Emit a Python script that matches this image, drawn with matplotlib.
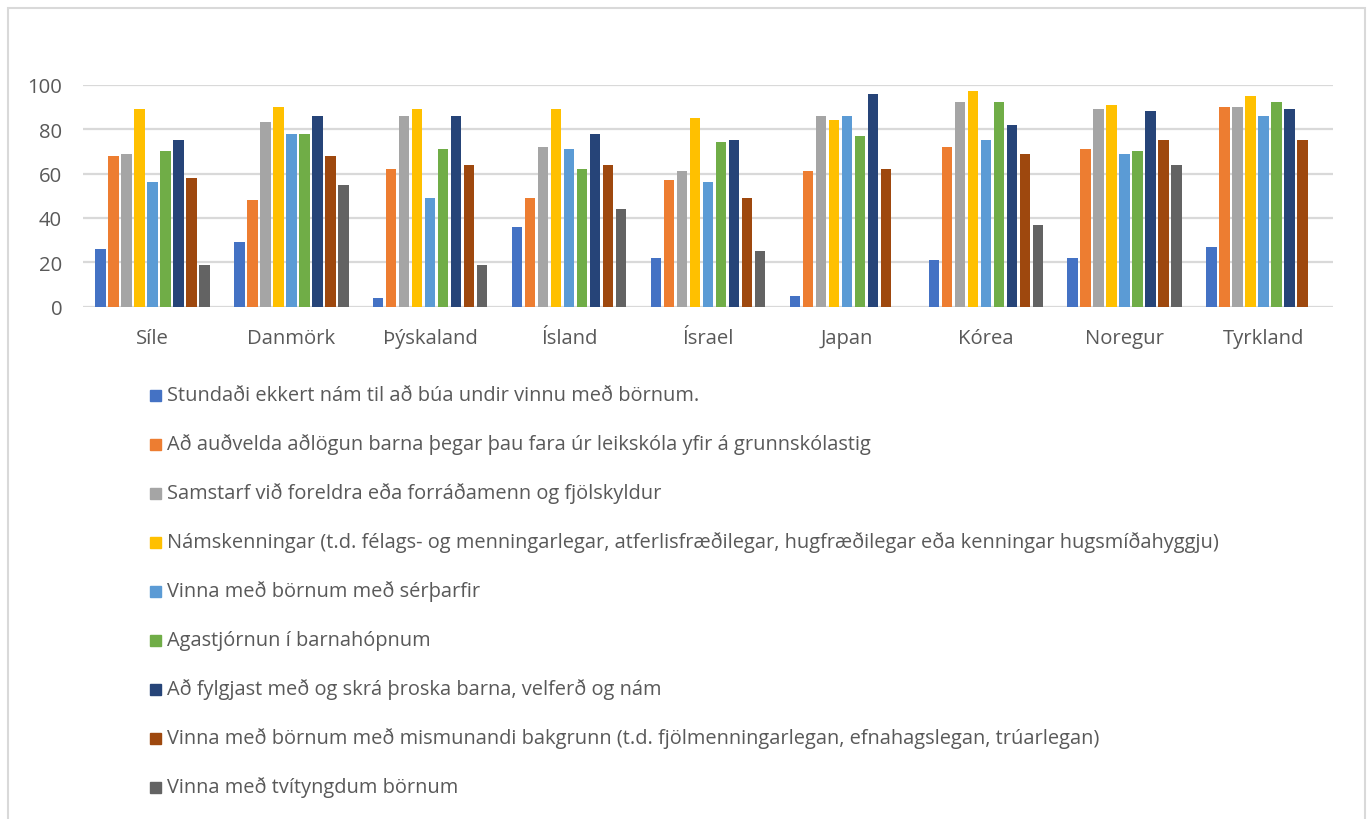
import numpy as np
import matplotlib
matplotlib.use("Agg")
import matplotlib.pyplot as plt
from matplotlib.patches import Rectangle

plt.rcParams['font.family'] = ['Open Sans', 'DejaVu Sans']

countries = ["Síle", "Danmörk", "Þýskaland", "Ísland", "Ísrael", "Japan", "Kórea", "Noregur", "Tyrkland"]

series_labels = [
    "Stundaði ekkert nám til að búa undir vinnu með börnum.",
    "Að auðvelda aðlögun barna þegar þau fara úr leikskóla yfir á grunnskólastig",
    "Samstarf við foreldra eða forráðamenn og fjölskyldur",
    "Námskenningar (t.d. félags- og menningarlegar, atferlisfræðilegar, hugfræðilegar eða kenningar hugsmíðahyggju)",
    "Vinna með börnum með sérþarfir",
    "Agastjórnun í barnahópnum",
    "Að fylgjast með og skrá þroska barna, velferð og nám",
    "Vinna með börnum með mismunandi bakgrunn (t.d. fjölmenningarlegan, efnahagslegan, trúarlegan)",
    "Vinna með tvítyngdum börnum",
]

nan = np.nan
s_ekkert      = [26, 29, 4, 36, 22, 5, 21, 22, 27]
s_adlogun     = [68, 48, 62, 49, 57, 61, 72, 71, 90]
s_samstarf    = [69, 83, 86, 72, 61, 86, 92, 89, 90]
s_namskenn    = [89, 90, 89, 89, 85, 84, 97, 91, 95]
s_serthorf    = [56, 78, 49, 71, 56, 86, 75, 69, 86]
s_agastjorn   = [70, 78, 71, 62, 74, 77, 92, 70, 92]
s_throski     = [75, 86, 86, 78, 75, 96, 82, 88, 89]
s_bakgrunn    = [58, 68, 64, 64, 49, 62, 69, 75, 75]
s_tvityngd    = [19, 55, 19, 44, 25, nan, 37, 64, nan]

series = [s_ekkert, s_adlogun, s_samstarf, s_namskenn, s_serthorf,
          s_agastjorn, s_throski, s_bakgrunn, s_tvityngd]

colors = ["#4472C4", "#ED7D31", "#A5A5A5", "#FFC000", "#5B9BD5",
          "#70AD47", "#264478", "#9E480E", "#636363"]

W, H = 1367, 820
fig = plt.figure(figsize=(W / 100, H / 100), dpi=100)
ax = fig.add_axes([83 / W, 1 - 307.7 / H, 1250 / W, 222 / H])

x = np.arange(len(countries))
slot = 0.0936
n = len(series)
for i, (vals, c) in enumerate(zip(series, colors)):
    ax.bar(x + (i - (n - 1) / 2) * slot, vals, width=slot * 0.8,
           color=c, zorder=3)

ax.set_xlim(-0.5, len(countries) - 0.5)
ax.set_ylim(0, 100)
ax.set_yticks(np.arange(0, 101, 20))
ax.set_xticks(x)
ax.set_xticklabels(countries)
ax.grid(axis='y', color='#d9d9d9', linewidth=1.6, zorder=0)
for s in ax.spines.values():
    s.set_visible(False)
ax.tick_params(axis='both', length=0, labelsize=14.6, labelcolor='#595959')
ax.tick_params(axis='y', pad=15)
ax.tick_params(axis='x', pad=15)

# legend, drawn as a vertical list below the plot
row0 = 396
dy = 49
for i, (lab, c) in enumerate(zip(series_labels, colors)):
    yc = row0 + i * dy
    fig.patches.append(Rectangle((150 / W, 1 - (yc + 5.5) / H), 11 / W, 11 / H,
                                 transform=fig.transFigure, color=c))
    fig.text(167 / W, 1 - yc / H, lab, fontsize=14.4, color='#595959',
             va='center', ha='left')

# outer chart border
fig.patches.append(Rectangle((7.5 / W, -0.05), (1364.5 - 7.5) / W, 1.05 - 8.5 / H,
                             transform=fig.transFigure, fill=False,
                             edgecolor='#d9d9d9', linewidth=1.5))

fig.savefig("out.png", dpi=100)
